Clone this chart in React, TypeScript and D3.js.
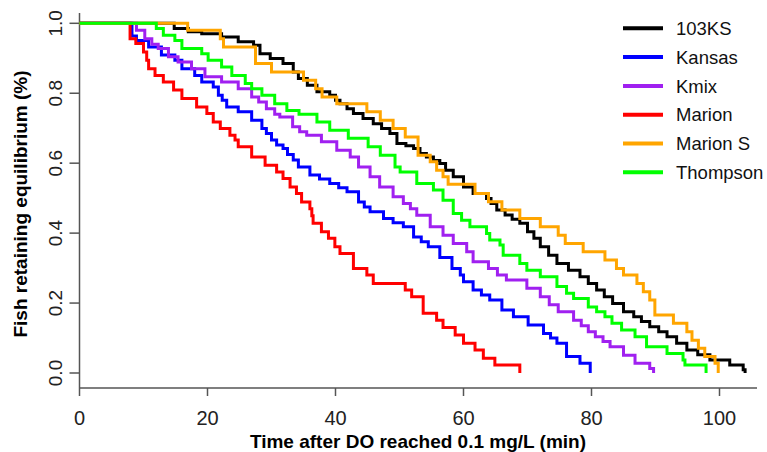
import React from "react";
import * as d3 from "d3";

const seriesNames = ["103KS", "Kansas", "Kmix", "Marion", "Marion S", "Thompson"];
const seriesColors = ["#000000", "#0000FF", "#A020F0", "#FF0000", "#FFA500", "#00FF00"];
const xTicks = [0, 20, 40, 60, 80, 100];
const yTicks = [0.0, 0.2, 0.4, 0.6, 0.8, 1.0];

// [time (min), proportion retaining equilibrium] after each step
const ks103: [number, number][] = [
  [0, 1], [14.8, 0.985], [17, 0.976], [19.1, 0.97], [22.2, 0.961], [24.8, 0.947], [27.2, 0.937],
  [28.2, 0.913], [29.8, 0.899], [31.8, 0.885], [33.4, 0.861], [34.2, 0.842], [35.6, 0.823],
  [37.1, 0.804], [39.1, 0.794], [40, 0.78], [40.7, 0.77], [41.8, 0.756], [42.8, 0.742],
  [44.3, 0.728], [45.9, 0.713], [47.2, 0.699], [48.5, 0.685], [49.6, 0.656], [51, 0.65],
  [52.2, 0.642], [53.2, 0.628], [54.2, 0.618], [55.3, 0.608], [56.3, 0.599], [57.2, 0.58],
  [58.4, 0.561], [60, 0.532], [61.5, 0.513], [63.6, 0.499], [64.3, 0.485], [65.2, 0.466],
  [66.5, 0.452], [67.6, 0.44], [68.8, 0.428], [70, 0.404], [71, 0.385], [72, 0.361],
  [73.3, 0.337], [74.6, 0.313], [76.4, 0.294], [78.2, 0.275], [79.5, 0.256], [80.8, 0.237],
  [82, 0.218], [83.3, 0.199], [85, 0.175], [86.6, 0.161], [87.8, 0.147], [89.1, 0.132],
  [90.5, 0.118], [91.8, 0.104], [93.3, 0.085], [94.9, 0.066], [96.6, 0.052], [98.5, 0.037],
  [101.6, 0.023], [103.7, 0.009], [104, 0],
];
const kansas: [number, number][] = [
  [0, 1], [8.2, 0.964], [8.9, 0.951], [10.8, 0.932], [12.8, 0.909], [14.9, 0.894], [16, 0.87],
  [18, 0.851], [19.1, 0.832], [20.9, 0.818], [21.7, 0.794], [22.3, 0.78], [23, 0.761],
  [24.8, 0.747], [26.9, 0.723], [28.5, 0.699], [29.2, 0.685], [30, 0.666], [30.8, 0.652],
  [31.8, 0.642], [32.5, 0.625], [33.4, 0.609], [34.2, 0.589], [36, 0.566], [37.5, 0.555],
  [39.1, 0.542], [40.5, 0.53], [41.8, 0.518], [43.6, 0.489], [44.5, 0.475], [45.4, 0.461],
  [47.5, 0.442], [49, 0.43], [50.6, 0.418], [52.2, 0.389], [53.4, 0.375], [54.5, 0.361],
  [56.3, 0.33], [58.2, 0.299], [59.5, 0.28], [60, 0.261], [61.5, 0.237], [62.8, 0.223],
  [64.1, 0.209], [66, 0.18], [67.8, 0.161], [70.1, 0.137], [72.5, 0.113], [73.6, 0.1],
  [74.6, 0.085], [76.1, 0.047], [78.2, 0.028], [79.8, 0],
];
const kmix: [number, number][] = [
  [0, 1], [8.9, 0.98], [10.2, 0.956], [11.3, 0.94], [12.3, 0.928], [13.9, 0.904], [15.4, 0.889],
  [17.5, 0.87], [19.6, 0.847], [22.2, 0.832], [24.8, 0.813], [26.9, 0.789], [28, 0.775],
  [29.2, 0.756], [30.5, 0.74], [31.3, 0.732], [33.3, 0.704], [34.4, 0.69], [35.5, 0.68],
  [37.8, 0.661], [40.2, 0.637], [42.3, 0.618], [43.6, 0.589], [45.4, 0.561], [46.9, 0.532],
  [49, 0.504], [50.6, 0.485], [51.7, 0.47], [52.7, 0.451], [54.8, 0.418], [56.8, 0.394],
  [58.4, 0.37], [60.5, 0.347], [61.5, 0.318], [63.9, 0.299], [65.3, 0.28], [66.7, 0.266],
  [69.9, 0.242], [72, 0.218], [73.4, 0.195], [74.8, 0.175], [77.2, 0.151], [78.4, 0.135],
  [79.5, 0.118], [80.6, 0.104], [81.8, 0.09], [82.9, 0.075], [85, 0.051], [86.8, 0.028],
  [89.1, 0.013], [89.7, 0],
];
const marion: [number, number][] = [
  [0, 1], [7.9, 0.956], [8.8, 0.942], [10, 0.918], [10.5, 0.894], [10.8, 0.87], [11.8, 0.851],
  [13.1, 0.832], [14.7, 0.809], [16, 0.785], [18.3, 0.761], [19.9, 0.742], [20.9, 0.718],
  [22, 0.699], [23.5, 0.68], [24.3, 0.666], [24.8, 0.647], [26.9, 0.618], [29, 0.594],
  [30.8, 0.575], [31.8, 0.556], [32.9, 0.532], [33.9, 0.513], [34.7, 0.489], [36, 0.47],
  [36.3, 0.45], [36.5, 0.428], [37.8, 0.404], [38.9, 0.385], [39.9, 0.361], [40.7, 0.342],
  [42.8, 0.299], [44.9, 0.28], [45.9, 0.256], [50.9, 0.237], [51.9, 0.218], [53.7, 0.171],
  [55.8, 0.151], [56.8, 0.13], [58.7, 0.109], [60, 0.085], [61.8, 0.066], [63.1, 0.042],
  [64.9, 0.023], [68.8, 0],
];
const marionS: [number, number][] = [
  [0, 1], [16.9, 0.98], [22, 0.956], [22.5, 0.932], [27.5, 0.885], [30, 0.861], [35, 0.837],
  [36.9, 0.813], [37.9, 0.789], [40.2, 0.77], [44.9, 0.747], [47, 0.723], [49, 0.699],
  [50.9, 0.675], [52.9, 0.623], [54.8, 0.604], [55.8, 0.58], [56.8, 0.561], [57.6, 0.54],
  [61.8, 0.513], [63.9, 0.49], [66, 0.466], [68.8, 0.442], [72, 0.418], [74.8, 0.394],
  [75.9, 0.37], [78.7, 0.347], [82.1, 0.323], [83.9, 0.299], [85, 0.28], [87.1, 0.256],
  [88.1, 0.232], [89.1, 0.209], [89.9, 0.166], [92.8, 0.142], [94.9, 0.118], [95.7, 0.094],
  [96.7, 0.071], [97.7, 0.047], [99.3, 0.028], [99.8, 0],
];
const thompson: [number, number][] = [
  [0, 1], [12, 0.985], [13.1, 0.966], [14.9, 0.951], [16, 0.928], [19.1, 0.913], [20.1, 0.894],
  [22.2, 0.875], [23.8, 0.851], [25.9, 0.828], [26.9, 0.813], [28.5, 0.794], [30.5, 0.77],
  [32.4, 0.751], [34.3, 0.74], [37.1, 0.718], [39.1, 0.694], [42, 0.671], [45.1, 0.647],
  [47, 0.623], [49.3, 0.589], [50.1, 0.575], [52.7, 0.542], [55.3, 0.523], [56.8, 0.494],
  [58.4, 0.456], [59.7, 0.437], [61, 0.418], [63.6, 0.399], [64.1, 0.38], [65.7, 0.366],
  [66.2, 0.337], [68.8, 0.313], [69.9, 0.294], [72, 0.275], [74.6, 0.247], [76.1, 0.228],
  [77.2, 0.213], [79.5, 0.189], [80.8, 0.175], [82.1, 0.161], [83.2, 0.142], [84.7, 0.123],
  [86.8, 0.104], [88.6, 0.075], [91.8, 0.056], [94.3, 0.037], [94.6, 0.023], [97.9, 0],
];
const seriesData = [ks103, kansas, kmix, marion, marionS, thompson];

const W = 767;
const H = 452;
const FONT = "'Liberation Sans', Arial, Helvetica, sans-serif";

export default function App() {
  const x = d3.scaleLinear().domain([0, 100]).range([79.5, 719.5]);
  const y = d3.scaleLinear().domain([0, 1]).range([373, 23.3]);
  const line = d3
    .line<[number, number]>()
    .x((d) => x(d[0]))
    .y((d) => y(d[1]))
    .curve(d3.curveStepAfter);

  const axisColor = "#555";
  const xAxisY = 388;
  const yAxisX = 79.5;

  return (
    <svg
      width={W}
      height={H}
      style={{ position: "absolute", left: 0, top: 0, background: "#fff" }}
      fontFamily={FONT}
    >
      <rect x={0} y={0} width={W} height={H} fill="#fff" />
      {/* axes (L-shaped box) */}
      <line x1={yAxisX} y1={13} x2={yAxisX} y2={xAxisY} stroke={axisColor} strokeWidth={1.5} />
      <line x1={yAxisX} y1={xAxisY} x2={757} y2={xAxisY} stroke={axisColor} strokeWidth={1.5} />
      {xTicks.map((t) => (
        <g key={"xt" + t}>
          <line x1={x(t)} x2={x(t)} y1={xAxisY} y2={xAxisY + 8} stroke={axisColor} strokeWidth={1.5} />
          <text x={x(t)} y={425} textAnchor="middle" fontSize={20} fill="#222">
            {t}
          </text>
        </g>
      ))}
      {yTicks.map((t) => (
        <g key={"yt" + t}>
          <line x1={yAxisX - 10} x2={yAxisX} y1={y(t)} y2={y(t)} stroke={axisColor} strokeWidth={1.5} />
          <text
            transform={`translate(62,${y(t)}) rotate(-90)`}
            textAnchor="middle"
            fontSize={19}
            fill="#222"
          >
            {t.toFixed(1)}
          </text>
        </g>
      ))}
      <text x={418} y={448} textAnchor="middle" fontSize={19} fontWeight="bold" fill="#000">
        Time after DO reached 0.1 mg/L (min)
      </text>
      <text
        transform={`translate(27,204) rotate(-90)`}
        textAnchor="middle"
        fontSize={19}
        fontWeight="bold"
        fill="#000"
      >
        Fish retaining equilibrium (%)
      </text>
      {/* curves */}
      {seriesData.map((d, i) => (
        <path
          key={seriesNames[i]}
          d={line(d) || ""}
          fill="none"
          stroke={seriesColors[i]}
          strokeWidth={3}
          strokeLinejoin="miter"
          strokeLinecap="butt"
        />
      ))}
      {/* legend */}
      {seriesNames.map((name, i) => {
        const ly = 28.3 + i * 28.8;
        return (
          <g key={"lg" + name}>
            <line x1={623} x2={663} y1={ly} y2={ly} stroke={seriesColors[i]} strokeWidth={4} />
            <text x={676} y={ly + 6.6} fontSize={18.5} fill="#111">
              {name}
            </text>
          </g>
        );
      })}
    </svg>
  );
}
